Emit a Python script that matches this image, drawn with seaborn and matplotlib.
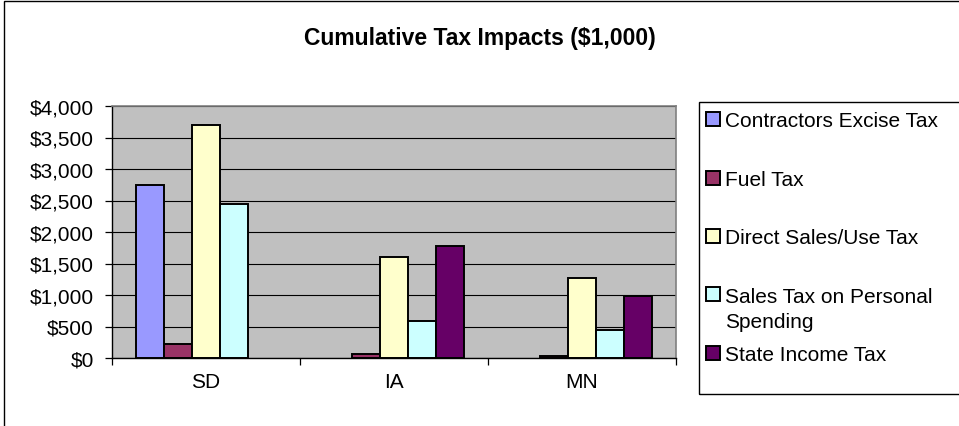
import matplotlib
matplotlib.use("Agg")
import matplotlib.pyplot as plt
from matplotlib.patches import Rectangle
from matplotlib.ticker import FixedLocator, FuncFormatter
import pandas as pd
import seaborn as sns

# ---- data -------------------------------------------------------------
states = ["SD", "IA", "MN"]
series_names = [
    "Contractors Excise Tax",
    "Fuel Tax",
    "Direct Sales/Use Tax",
    "Sales Tax on Personal Spending",
    "State Income Tax",
]
contractors_excise = [2750, 0, 0]
fuel_tax = [230, 60, 30]
direct_sales_use = [3700, 1610, 1270]
sales_tax_personal = [2450, 580, 450]
state_income = [0, 1770, 985]
series_colors = ["#9999FF", "#993366", "#FFFFCC", "#CCFFFF", "#660066"]
y_ticks = [0, 500, 1000, 1500, 2000, 2500, 3000, 3500, 4000]

series_values = [contractors_excise, fuel_tax, direct_sales_use,
                 sales_tax_personal, state_income]
rows = []
for name, vals in zip(series_names, series_values):
    for st, v in zip(states, vals):
        rows.append({"State": st, "Tax": name, "Value": v})
df = pd.DataFrame(rows)

# ---- figure -----------------------------------------------------------
W, H = 959, 427
plt.rcParams["font.family"] = ["Liberation Sans", "DejaVu Sans"]
fig = plt.figure(figsize=(W / 100, H / 100), dpi=100)
fig.patch.set_facecolor("white")

def fx(px):
    return px / W

def fy(py):
    return 1 - py / H

# outer chart frame
fig.patches.append(Rectangle((fx(3.5), -0.1), 1.2, fy(1.5) + 0.1,
                             transform=fig.transFigure, fill=False,
                             edgecolor="black", linewidth=1.0))

ax = fig.add_axes([fx(112), fy(359), fx(676) - fx(112), fy(107) - fy(359)])
ax.set_facecolor("#C0C0C0")

sns.barplot(data=df, x="State", y="Value", hue="Tax", order=states,
            hue_order=series_names, palette=series_colors, width=0.745,
            edgecolor="black", linewidth=1.4, saturation=1, ax=ax,
            legend=False, errorbar=None)

# empty bars leave no outline on the axis
for bar in ax.patches:
    if bar.get_height() == 0:
        bar.set_linewidth(0)

ax.set_ylim(0, 4000)
ax.set_xlim(-0.5, 2.5)
ax.set_xlabel("")
ax.set_ylabel("")

ax.yaxis.set_major_locator(FixedLocator(y_ticks))
ax.yaxis.set_major_formatter(FuncFormatter(lambda v, p: f"${v:,.0f}"))
ax.grid(axis="y", color="black", linewidth=0.8)
ax.set_axisbelow(True)

# category ticks sit between the groups; labels centred under each group
ax.xaxis.set_major_locator(FixedLocator([-0.5, 0.5, 1.5, 2.5]))
ax.xaxis.set_major_formatter(FuncFormatter(lambda v, p: ""))
ax.xaxis.set_minor_locator(FixedLocator([0, 1, 2]))
ax.set_xticklabels(states, minor=True)
ax.tick_params(axis="x", which="major", length=5, width=0.9, color="black",
               direction="out")
ax.tick_params(axis="x", which="minor", length=0, pad=10, labelsize=15)
ax.tick_params(axis="y", length=5, width=0.9, color="black", direction="out",
               pad=8, labelsize=15)

for side in ("top", "right"):
    ax.spines[side].set_color("#808080")
    ax.spines[side].set_linewidth(1.2)
for side in ("left", "bottom"):
    ax.spines[side].set_color("black")
    ax.spines[side].set_linewidth(1.0)

# title
fig.text(0.5, fy(45), "Cumulative Tax Impacts ($1,000)", ha="center",
         va="baseline", fontsize=16.5, fontweight="bold")

# legend box
fig.patches.append(Rectangle((fx(698.5), fy(395)), 1.0, fy(103) - fy(395),
                             transform=fig.transFigure, fill=False,
                             edgecolor="black", linewidth=1.0))
legend_lines = [
    ["Contractors Excise Tax"],
    ["Fuel Tax"],
    ["Direct Sales/Use Tax"],
    ["Sales Tax on Personal", "Spending"],
    ["State Income Tax"],
]
baselines = [127.3, 186, 244, 302.7, 361]
for lines, base, color in zip(legend_lines, baselines, series_colors):
    fig.patches.append(Rectangle((fx(706), fy(base - 0.5)), fx(14),
                                 fy(base - 14.5) - fy(base - 0.5),
                                 transform=fig.transFigure, facecolor=color,
                                 edgecolor="black", linewidth=1.4))
    for i, line in enumerate(lines):
        fig.text(fx(725), fy(base + 25.6 * i), line, ha="left",
                 va="baseline", fontsize=15)

fig.savefig("out.png", dpi=100)
